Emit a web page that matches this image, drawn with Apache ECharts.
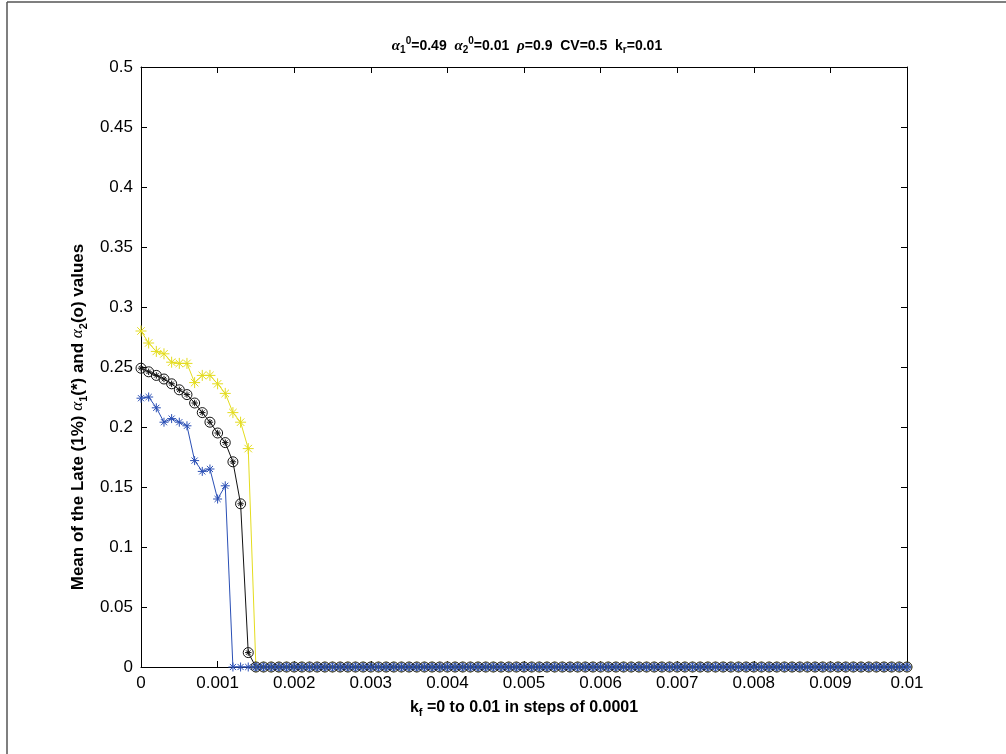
<!DOCTYPE html>
<html>
<head>
<meta charset="utf-8">
<script src="https://cdn.jsdelivr.net/npm/echarts@6/dist/echarts.min.js"></script>
<style>
html,body{margin:0;padding:0;background:#fff;}
#chart{width:1006px;height:754px;}
</style>
</head>
<body>
<div id="chart"></div>
<script>
// k_f grid: 0 to 0.01 in steps of 0.0001 (101 runs)
const kf = Array.from({length: 101}, (_, i) => +(i * 0.0001).toFixed(4));

// yellow (*) series
const yellowAlpha1 = [0.280,0.270,0.263,0.261,0.254,0.253,0.253,0.237,0.243,0.243,
  0.236,0.228,0.212,0.204,0.182,0,0,0,0,0,
  0,0,0,0,0,0,0,0,0,0, 0,0,0,0,0,0,0,0,0,0,
  0,0,0,0,0,0,0,0,0,0, 0,0,0,0,0,0,0,0,0,0,
  0,0,0,0,0,0,0,0,0,0, 0,0,0,0,0,0,0,0,0,0,
  0,0,0,0,0,0,0,0,0,0, 0,0,0,0,0,0,0,0,0,0, 0];
// black (circle with *) series
const blackAlpha1 = [0.249,0.246,0.243,0.240,0.236,0.231,0.227,0.220,0.212,0.204,
  0.195,0.187,0.171,0.136,0.012,0,0,0,0,0,
  0,0,0,0,0,0,0,0,0,0, 0,0,0,0,0,0,0,0,0,0,
  0,0,0,0,0,0,0,0,0,0, 0,0,0,0,0,0,0,0,0,0,
  0,0,0,0,0,0,0,0,0,0, 0,0,0,0,0,0,0,0,0,0,
  0,0,0,0,0,0,0,0,0,0, 0,0,0,0,0,0,0,0,0,0, 0];
// blue (*) series
const blueAlpha1 = [0.224,0.225,0.216,0.204,0.207,0.204,0.201,0.172,0.163,0.165,
  0.140,0.151,0,0,0,0,0,0,0,0,
  0,0,0,0,0,0,0,0,0,0, 0,0,0,0,0,0,0,0,0,0,
  0,0,0,0,0,0,0,0,0,0, 0,0,0,0,0,0,0,0,0,0,
  0,0,0,0,0,0,0,0,0,0, 0,0,0,0,0,0,0,0,0,0,
  0,0,0,0,0,0,0,0,0,0, 0,0,0,0,0,0,0,0,0,0, 0];
// blue (o) alpha2 series, visible from k_f = 0.0015
const blueAlpha2 = [null,null,null,null,null,null,null,null,null,null,
  null,null,null,null,null,0,0,0,0,0,
  0,0,0,0,0,0,0,0,0,0, 0,0,0,0,0,0,0,0,0,0,
  0,0,0,0,0,0,0,0,0,0, 0,0,0,0,0,0,0,0,0,0,
  0,0,0,0,0,0,0,0,0,0, 0,0,0,0,0,0,0,0,0,0,
  0,0,0,0,0,0,0,0,0,0, 0,0,0,0,0,0,0,0,0,0, 0];

const F = 'Liberation Sans, Arial, sans-serif';
const STAR = 'path://M5 0L5 10M0 5L10 5M1.6 1.6L8.4 8.4M8.4 1.6L1.6 8.4';
const CSTAR = 'path://M0 5A5 5 0 1 1 10 5A5 5 0 1 1 0 5ZM5 1.8L5 8.2M1.8 5L8.2 5M2.8 2.8L7.2 7.2M7.2 2.8L2.8 7.2';
const CIRC = 'path://M0 5A5 5 0 1 1 10 5A5 5 0 1 1 0 5Z';

function pairs(arr){ return kf.map((x,i)=>[x, arr[i]]); }

function mkSeries(name, arr, color, symbol, size){
  return {
    name, type: 'line', data: pairs(arr), showAllSymbol: true,
    symbol, symbolSize: size, connectNulls: false,
    lineStyle: {color, width: 1},
    itemStyle: {color: 'rgba(0,0,0,0)', borderColor: color, borderWidth: 1},
    emphasis: {disabled: true}, animation: false
  };
}

const richName = {
  b: {fontFamily: F, fontWeight: 'bold', fontSize: 16, lineHeight: 22, color: '#000'},
  a: {fontFamily: 'Liberation Serif, serif', fontStyle: 'italic', fontSize: 16, lineHeight: 22, color: '#000'},
  sub: {fontFamily: F, fontWeight: 'bold', fontSize: 11, lineHeight: 11, padding: [11,0,0,0], color: '#000'}
};
const richYName = {
  b: {fontFamily: F, fontWeight: 'bold', fontSize: 17, lineHeight: 22, color: '#000'},
  a: {fontFamily: 'Liberation Serif, serif', fontStyle: 'italic', fontSize: 17, lineHeight: 22, color: '#000'},
  sub: {fontFamily: F, fontWeight: 'bold', fontSize: 11, lineHeight: 11, padding: [11,0,0,0], color: '#000'}
};

const chart = echarts.init(document.getElementById('chart'), null, {renderer: 'canvas'});
chart.setOption({
  backgroundColor: '#fff',
  animation: false,
  title: {
    text: '{a|α}{sub|1}{sup|0}{b|=0.49  }{a|α}{sub|2}{sup|0}{b|=0.01  }{a|ρ}{b|=0.9  CV=0.5  k}{sub|r}{b|=0.01}',
    left: 522, top: 32, textAlign: 'center',
    textStyle: {
      rich: {
        b: {fontFamily: F, fontWeight: 'bold', fontSize: 14, lineHeight: 18, color: '#000'},
        a: {fontFamily: 'Liberation Serif, serif', fontStyle: 'italic', fontSize: 15, lineHeight: 18, color: '#000'},
        sub: {fontFamily: F, fontSize: 10, lineHeight: 10, padding: [9,0,0,0], color: '#000'},
        sup: {fontFamily: F, fontSize: 10, lineHeight: 10, padding: [0,0,9,0], color: '#000'}
      }
    }
  },
  grid: {left: 141, right: 99, top: 67, bottom: 87, containLabel: false},
  xAxis: [{
    type: 'value', min: 0, max: 0.01, interval: 0.001,
    name: '{b|k}{sub|f}{b| =0 to 0.01 in steps of 0.0001}',
    nameLocation: 'middle', nameGap: 28,
    nameTextStyle: {rich: richName},
    axisLine: {show: true, onZero: false, lineStyle: {color: '#000', width: 1}},
    axisTick: {inside: true, length: 6, lineStyle: {color: '#000'}},
    axisLabel: {fontFamily: F, fontSize: 17, color: '#000', margin: 8,
      formatter: v => String(+v.toFixed(4))},
    splitLine: {show: false}
  }, {
    type: 'value', position: 'top', min: 0, max: 0.01, interval: 0.001,
    axisLine: {show: true, onZero: false, lineStyle: {color: '#000', width: 1}},
    axisTick: {inside: true, length: 6, lineStyle: {color: '#000'}},
    axisLabel: {show: false}, splitLine: {show: false}
  }],
  yAxis: [{
    type: 'value', min: 0, max: 0.5, interval: 0.05,
    name: '{b|Mean of the Late (1%) }{a|α}{sub|1}{b|(*) and }{a|α}{sub|2}{b|(o) values}',
    nameLocation: 'middle', nameGap: 52,
    nameTextStyle: {rich: richYName, padding: [0, 100, 0, 0]},
    axisLine: {show: true, onZero: false, lineStyle: {color: '#000', width: 1}},
    axisTick: {inside: true, length: 6, lineStyle: {color: '#000'}},
    axisLabel: {fontFamily: F, fontSize: 17, color: '#000', margin: 8,
      formatter: v => String(+v.toFixed(4))},
    splitLine: {show: false}
  }, {
    type: 'value', position: 'right', min: 0, max: 0.5, interval: 0.05,
    axisLine: {show: true, onZero: false, lineStyle: {color: '#000', width: 1}},
    axisTick: {inside: true, length: 6, lineStyle: {color: '#000'}},
    axisLabel: {show: false}, splitLine: {show: false}
  }],
  series: [
    mkSeries('yellow α1', yellowAlpha1, '#e4dc1e', STAR, 11),
    mkSeries('black α1', blackAlpha1, '#111111', CSTAR, 10),
    mkSeries('blue α1', blueAlpha1, '#2a4fb5', STAR, 9),
    mkSeries('blue α2', blueAlpha2, '#2a4fb5', CIRC, 7)
  ],
  graphic: [
    {type: 'line', shape: {x1: 7, y1: 2, x2: 7, y2: 754}, style: {stroke: '#555', lineWidth: 1.5}, silent: true},
    {type: 'line', shape: {x1: 7, y1: 2, x2: 1006, y2: 2}, style: {stroke: '#555', lineWidth: 1.5}, silent: true}
  ]
});
</script>
</body>
</html>
